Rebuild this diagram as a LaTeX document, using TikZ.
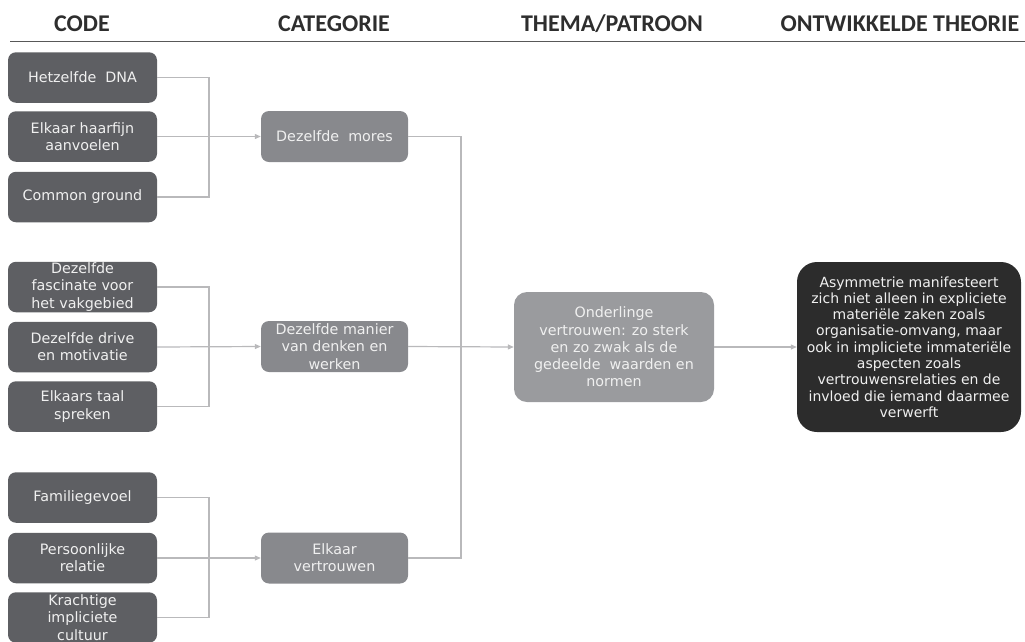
\documentclass[tikz,border=0pt]{standalone}
\usepackage{fontspec}
\setmainfont{DejaVu Sans}
\newfontfamily\headfont{Carlito}
\usetikzlibrary{arrows.meta}
\definecolor{codefill}{HTML}{5E5F63}
\definecolor{catfill}{HTML}{88898D}
\definecolor{themefill}{HTML}{9A9B9E}
\definecolor{theoryfill}{HTML}{2C2C2C}
\definecolor{linkgrey}{HTML}{B9B9BB}
\definecolor{headgrey}{HTML}{2E2E2E}
\definecolor{boxtext}{HTML}{F0F0F0}
\begin{document}
\begin{tikzpicture}[x=1pt,y=-1pt,
  basebox/.style={inner sep=0pt, align=center, text=boxtext,
    font=\fontsize{14.3}{17.2}\selectfont},
  codebox/.style={basebox, fill=codefill, rounded corners=8pt,
    minimum width=149pt, minimum height=50.5pt},
  catbox/.style={basebox, fill=catfill, rounded corners=8pt,
    minimum width=147pt, minimum height=51pt},
  themebox/.style={basebox, fill=themefill, rounded corners=13pt,
    minimum width=200pt, minimum height=110pt},
  theorybox/.style={basebox, fill=theoryfill, rounded corners=20pt,
    minimum width=224pt, minimum height=170pt,
    font=\fontsize{14}{16.3}\selectfont},
  head/.style={font=\headfont\bfseries\fontsize{24}{28}\selectfont,
    text=headgrey, inner sep=0pt, anchor=base},
  link/.style={draw=linkgrey, line width=1.2pt},
  flow/.style={link, -{Triangle[length=6pt,width=5pt]}},
]
\useasboundingbox (0,0) rectangle (1025,641);

% column headings
\node[head] (hcode)   at (82,31)  {CODE};
\node[head] (hcat)    at (334,31) {CATEGORIE};
\node[head] (htheme)  at (612,31) {THEMA/PATROON};
\node[head] (htheory) at (900,31) {ONTWIKKELDE THEORIE};
\draw[draw=headgrey!80, line width=1.6pt] (10,41.5) -- (1025,41.5);

% codes
\node[codebox] (c1) at (82.5,77.5)  {Hetzelfde\ \ DNA};
\node[codebox] (c2) at (82.5,136.5) {Elkaar haarfijn\\aanvoelen};
\node[codebox] (c3) at (82.5,197)   {Common ground};
\node[codebox] (c4) at (82.5,287)   {Dezelfde\\fascinate voor\\het vakgebied};
\node[codebox] (c5) at (82.5,347)   {Dezelfde drive\\en motivatie};
\node[codebox] (c6) at (82.5,406.5) {Elkaars taal\\spreken};
\node[codebox] (c7) at (82.5,497.5) {Familiegevoel};
\node[codebox] (c8) at (82.5,558)   {Persoonlijke\\relatie};
\node[codebox] (c9) at (82.5,617.5) {Krachtige\\impliciete\\cultuur};

% categories
\node[catbox] (k1) at (334.5,136.5) {Dezelfde\ \ mores};
\node[catbox] (k2) at (334.5,346.5) {Dezelfde manier\\van denken en\\werken};
\node[catbox] (k3) at (334.5,558)   {Elkaar\\vertrouwen};

% theme
\node[themebox] (t) at (614,347) {Onderlinge\\vertrouwen: zo sterk\\en zo zwak als de\\gedeelde\ \ waarden en\\normen};

% theory
\node[theorybox] (th) at (909,347) {Asymmetrie manifesteert\\zich niet alleen in expliciete\\materiële zaken zoals\\organisatie-omvang, maar\\ook in impliciete immateriële\\aspecten zoals\\vertrouwensrelaties en de\\invloed die iemand daarmee\\verwerft};

% brackets from codes to categories
\coordinate (b1) at (209,136.5);
\coordinate (b2) at (209,346.5);
\coordinate (b3) at (209,558);
\draw[link] (c1.east) -| (b1) |- (c3.east);
\draw[link] (c4.east) -| (b2) |- (c6.east);
\draw[link] (c7.east) -| (b3) |- (c9.east);
\draw[flow] (c2.east) -- (k1.west);
\draw[flow] (c5.east) -- (k2.west);
\draw[flow] (c8.east) -- (k3.west);

% categories to theme
\coordinate (j) at (461,346.5);
\draw[link] (k1.east) -| (j) |- (k3.east);
\draw[flow] (k2.east) -- (t.west);

% theme to theory
\draw[flow] (t.east) -- (th.west);
\end{tikzpicture}
\end{document}
